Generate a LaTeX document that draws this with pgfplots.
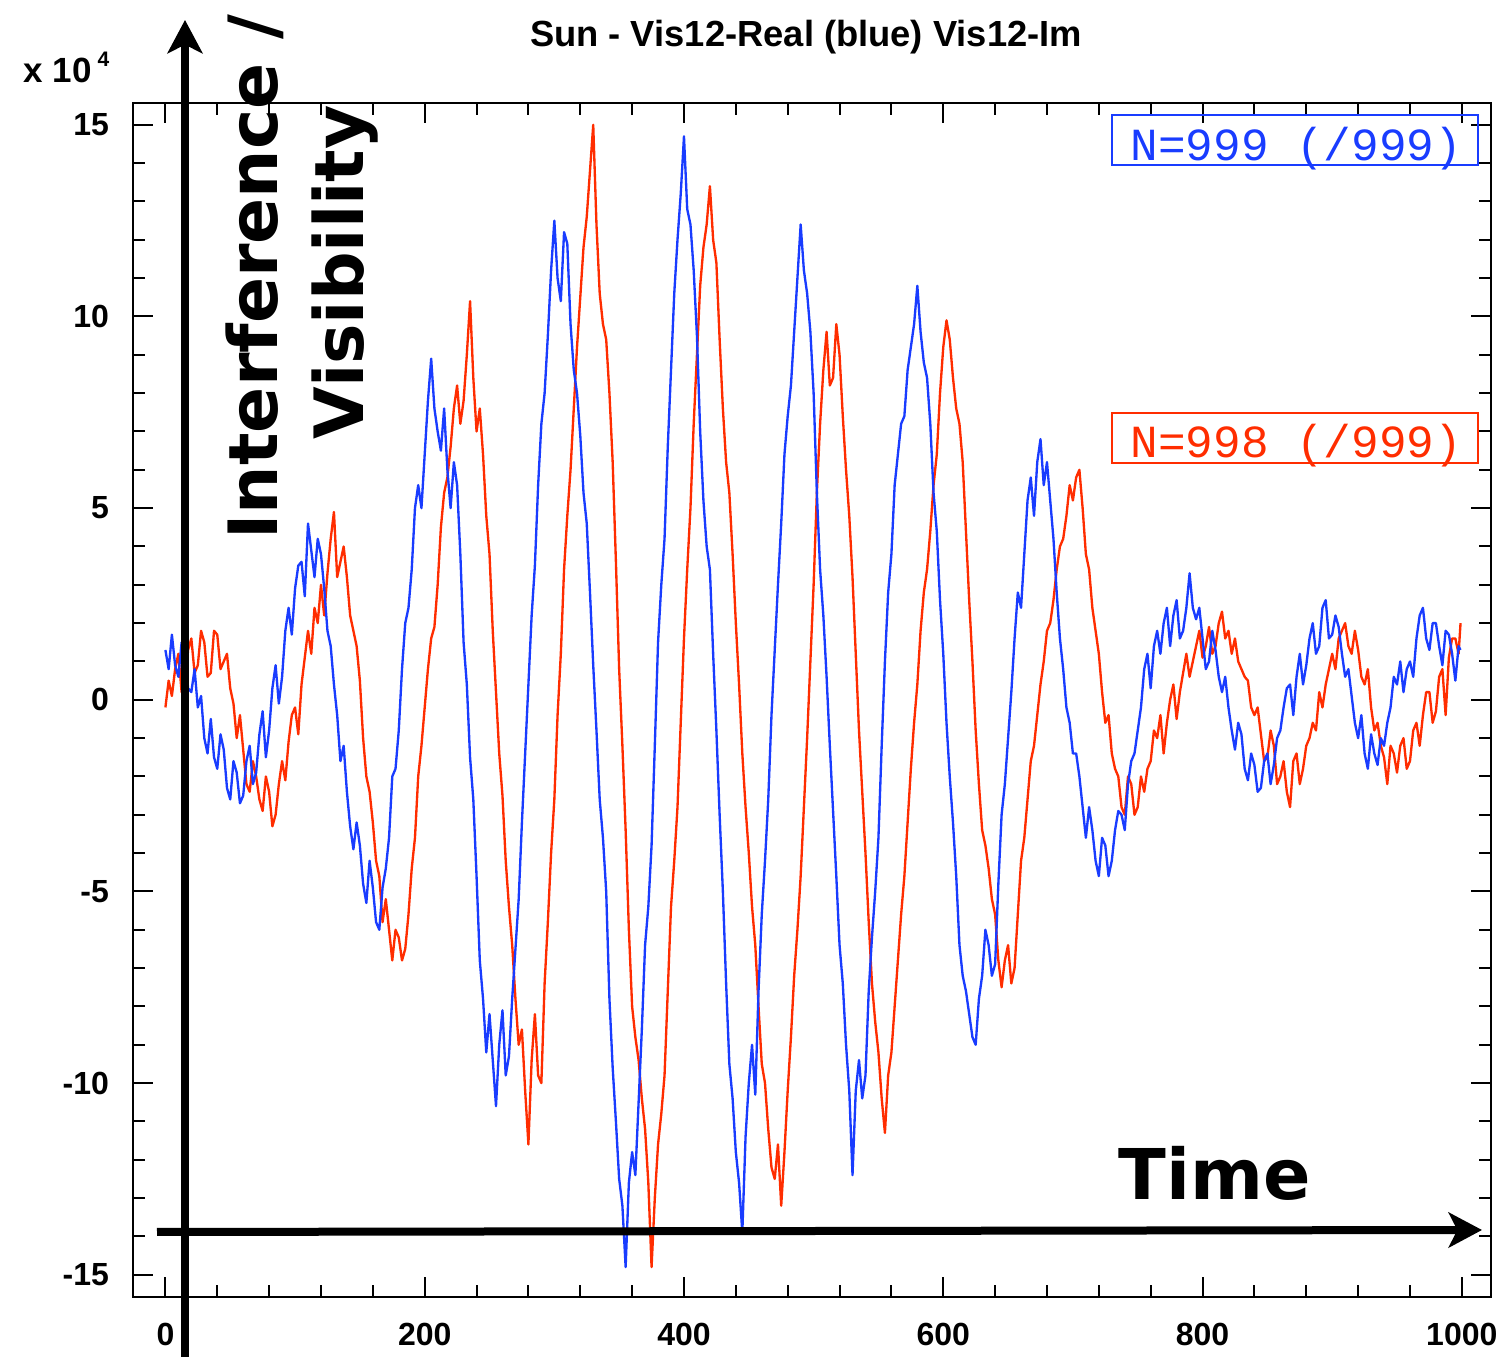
\documentclass[border=0pt]{standalone}
\usepackage{fontspec}
\setmainfont{Liberation Sans}
\newfontfamily\dejavu{DejaVu Sans}
\newfontfamily\monofont{Liberation Mono}
\usepackage{pgfplots}
\pgfplotsset{compat=1.18}
\usepackage{pgfplotstable}
\usetikzlibrary{arrows.meta}
\definecolor{rootblue}{RGB}{25,60,255}
\definecolor{rootred}{RGB}{255,45,0}

\pgfplotstableread{
t re im
0 1.3 -0.2
2.5 0.8 0.5
5 1.7 0.1
7.5 0.9 0.8
10 0.6 1.2
12.5 1.5 0.2
15 1.2 0.4
17.5 0.3 1.3
20 0.2 1.6
22.5 0.8 0.7
25 -0.2 0.9
27.5 0.1 1.8
30 -1.0 1.5
32.5 -1.4 0.6
35 -0.5 0.7
37.5 -1.5 1.8
40 -1.8 1.7
42.5 -0.9 0.8
45 -1.3 1.0
47.5 -2.3 1.2
50 -2.6 0.3
52.5 -1.6 -0.1
55 -1.9 -1.0
57.5 -2.7 -0.4
60 -2.5 -1.3
62.5 -1.6 -2.2
65 -1.2 -2.4
67.5 -2.2 -1.6
70 -1.9 -2.0
72.5 -0.9 -2.6
75 -0.3 -2.9
77.5 -1.5 -2.0
80 -0.8 -2.4
82.5 0.3 -3.3
85 0.9 -3.0
87.5 -0.1 -2.2
90 0.6 -1.6
92.5 1.8 -2.1
95 2.4 -1.1
97.5 1.7 -0.4
100 2.9 -0.2
102.5 3.5 -0.9
105 3.6 0.4
107.5 2.7 1.1
110 4.6 1.8
112.5 3.9 1.2
115 3.2 2.4
117.5 4.2 2.0
120 3.8 3.0
122.5 2.9 2.2
125 1.8 3.3
127.5 1.4 4.2
130 0.4 4.9
132.5 -0.4 3.2
135 -1.6 3.6
137.5 -1.2 4.0
140 -2.4 3.2
142.5 -3.3 2.2
145 -3.9 1.8
147.5 -3.2 1.4
150 -3.8 0.5
152.5 -4.8 -1.0
155 -5.3 -2.0
157.5 -4.2 -2.4
160 -4.9 -3.2
162.5 -5.8 -4.2
165 -6.0 -4.6
167.5 -4.9 -5.8
170 -4.4 -5.2
172.5 -3.6 -6.0
175 -2.0 -6.8
177.5 -1.8 -6.0
180 -0.8 -6.2
182.5 0.8 -6.8
185 2.0 -6.5
187.5 2.4 -5.6
190 3.4 -4.4
192.5 5.0 -3.6
195 5.6 -2.0
197.5 5.0 -1.2
200 6.4 -0.2
202.5 7.8 0.8
205 8.9 1.6
207.5 7.6 1.9
210 7.0 3.0
212.5 6.5 4.5
215 7.6 5.4
217.5 6.0 5.8
220 5.0 6.6
222.5 6.2 7.6
225 5.6 8.2
227.5 3.8 7.2
230 1.5 7.8
232.5 0.4 9.0
235 -1.5 10.4
237.5 -2.6 8.4
240 -4.6 7.0
242.5 -6.8 7.6
245 -7.8 6.4
247.5 -9.2 4.8
250 -8.2 3.8
252.5 -9.4 1.8
255 -10.6 0.2
257.5 -9.0 -1.4
260 -8.1 -2.5
262.5 -9.8 -4.2
265 -9.3 -5.4
267.5 -7.8 -6.4
270 -6.5 -7.8
272.5 -5.2 -9.0
275 -3.2 -8.6
277.5 -1.4 -10.2
280 0.4 -11.6
282.5 2.2 -9.4
285 3.5 -8.2
287.5 5.6 -9.8
290 7.2 -10.0
292.5 8.0 -7.4
295 9.5 -5.8
297.5 11.2 -4.0
300 12.5 -2.6
302.5 11.0 -0.4
305 10.4 1.2
307.5 12.2 3.4
310 11.9 4.8
312.5 9.8 6.0
315 8.6 7.6
317.5 8.0 9.2
320 6.9 10.5
322.5 5.4 11.8
325 4.6 12.6
327.5 2.8 13.8
330 0.9 15.0
332.5 -0.8 12.4
335 -2.6 10.6
337.5 -3.6 9.8
340 -5.0 9.4
342.5 -7.8 8.0
345 -9.6 6.2
347.5 -11.0 3.6
350 -12.5 0.8
352.5 -13.2 -1.2
355 -14.8 -3.4
357.5 -12.6 -6.0
360 -11.8 -8.0
362.5 -12.4 -8.8
365 -10.5 -9.4
367.5 -8.6 -10.4
370 -6.4 -11.2
372.5 -5.4 -12.6
375 -3.8 -14.8
377.5 -1.2 -13.0
380 1.5 -11.6
382.5 3.0 -10.8
385 4.2 -9.8
387.5 6.6 -7.6
390 8.6 -5.4
392.5 10.6 -4.2
395 12.0 -2.8
397.5 13.2 -0.6
400 14.7 1.6
402.5 12.8 3.4
405 12.4 5.0
407.5 11.2 7.2
410 9.5 9.0
412.5 7.0 10.8
415 5.2 11.8
417.5 4.0 12.4
420 3.4 13.4
422.5 1.2 12.0
425 -0.8 11.4
427.5 -3.0 9.4
430 -5.0 7.6
432.5 -7.4 6.2
435 -9.5 5.4
437.5 -10.4 3.8
440 -11.8 2.0
442.5 -12.6 0.4
445 -13.9 -1.4
447.5 -11.4 -2.8
450 -10.0 -4.0
452.5 -9.0 -5.4
455 -10.3 -6.4
457.5 -7.6 -8.0
460 -5.6 -9.5
462.5 -4.2 -10.0
465 -2.6 -11.2
467.5 -0.4 -12.2
470 1.3 -12.5
472.5 3.0 -11.6
475 4.6 -13.2
477.5 6.4 -11.8
480 7.4 -10.2
482.5 8.2 -8.8
485 9.6 -7.2
487.5 11.0 -6.0
490 12.4 -4.6
492.5 11.2 -2.8
495 10.6 -1.0
497.5 9.6 1.0
500 8.0 3.0
502.5 5.4 5.4
505 3.4 7.2
507.5 2.2 8.6
510 0.6 9.6
512.5 -1.2 8.2
515 -2.9 8.4
517.5 -4.6 9.8
520 -6.4 9.0
522.5 -7.4 7.4
525 -9.0 6.0
527.5 -10.2 4.8
530 -12.4 3.2
532.5 -10.2 1.2
535 -9.4 -0.8
537.5 -10.4 -2.4
540 -9.8 -4.0
542.5 -7.6 -5.8
545 -6.2 -7.4
547.5 -5.0 -8.4
550 -3.6 -9.2
552.5 -1.2 -10.4
555 1.0 -11.3
557.5 2.8 -9.8
560 3.8 -9.2
562.5 5.6 -8.0
565 6.4 -6.8
567.5 7.2 -5.6
570 7.4 -4.6
572.5 8.6 -3.2
575 9.2 -1.8
577.5 9.8 -0.6
580 10.8 0.4
582.5 9.6 1.8
585 8.8 2.8
587.5 8.4 3.4
590 7.2 4.4
592.5 5.4 5.6
595 4.4 6.4
597.5 2.6 8.0
600 1.2 9.2
602.5 -0.6 9.9
605 -2.0 9.4
607.5 -3.2 8.4
610 -4.6 7.6
612.5 -6.4 7.2
615 -7.2 6.2
617.5 -7.6 4.4
620 -8.2 2.6
622.5 -8.8 1.0
625 -9.0 -0.8
627.5 -7.8 -2.2
630 -7.2 -3.4
632.5 -6.0 -3.8
635 -6.4 -4.4
637.5 -7.2 -5.2
640 -6.9 -5.6
642.5 -4.8 -6.8
645 -3.0 -7.5
647.5 -2.2 -6.8
650 -1.0 -6.4
652.5 0.2 -7.4
655 1.6 -7.0
657.5 2.8 -5.6
660 2.4 -4.2
662.5 3.8 -3.6
665 5.2 -2.6
667.5 5.8 -1.6
670 4.8 -1.2
672.5 6.2 -0.4
675 6.8 0.4
677.5 5.6 1.0
680 6.2 1.8
682.5 5.2 2.0
685 4.2 2.6
687.5 2.8 3.4
690 1.6 4.0
692.5 0.8 4.2
695 -0.2 4.8
697.5 -0.6 5.6
700 -1.4 5.2
702.5 -1.4 5.8
705 -2.0 6.0
707.5 -2.8 5.0
710 -3.6 3.8
712.5 -2.8 3.4
715 -3.4 2.4
717.5 -4.2 1.8
720 -4.6 1.2
722.5 -3.6 0.2
725 -3.8 -0.6
727.5 -4.6 -0.4
730 -4.2 -1.4
732.5 -3.4 -1.8
735 -2.9 -2.0
737.5 -3.0 -2.8
740 -3.4 -3.0
742.5 -2.2 -2.0
745 -1.6 -2.2
747.5 -1.4 -3.0
750 -0.8 -2.8
752.5 -0.2 -2.0
755 0.8 -2.4
757.5 1.2 -1.8
760 0.3 -1.6
762.5 1.4 -0.8
765 1.8 -1.0
767.5 1.2 -0.4
770 2.0 -1.4
772.5 2.4 -0.6
775 1.4 0.0
777.5 2.2 0.4
780 2.6 -0.5
782.5 1.6 0.2
785 1.8 0.7
787.5 2.4 1.2
790 3.3 0.6
792.5 2.4 1.0
795 2.1 1.4
797.5 2.4 1.8
800 1.6 1.1
802.5 0.8 1.4
805 1.0 1.9
807.5 1.8 1.2
810 1.3 1.4
812.5 0.6 2.0
815 0.2 2.3
817.5 0.6 1.6
820 -0.2 1.8
822.5 -0.8 1.2
825 -1.3 1.6
827.5 -0.6 1.0
830 -0.9 0.8
832.5 -1.8 0.6
835 -2.1 0.5
837.5 -1.4 -0.2
840 -1.7 -0.4
842.5 -2.4 -0.2
845 -2.3 -0.9
847.5 -1.6 -1.6
850 -1.4 -1.5
852.5 -2.2 -0.8
855 -1.7 -1.2
857.5 -1.0 -2.2
860 -0.8 -2.0
862.5 -0.2 -1.6
865 0.3 -2.4
867.5 0.4 -2.8
870 -0.4 -1.6
872.5 0.6 -1.4
875 1.2 -2.2
877.5 0.4 -1.8
880 0.9 -1.2
882.5 1.6 -1.0
885 2.0 -0.6
887.5 1.2 -0.8
890 1.4 0.2
892.5 2.4 -0.2
895 2.6 0.4
897.5 1.6 0.8
900 1.7 1.2
902.5 2.2 0.8
905 1.9 1.6
907.5 1.2 1.8
910 0.6 2.0
912.5 0.8 1.4
915 0.1 1.2
917.5 -0.6 1.8
920 -1.0 1.3
922.5 -0.4 0.6
925 -1.4 0.4
927.5 -1.8 0.8
930 -0.9 -0.2
932.5 -1.4 -0.8
935 -1.7 -0.6
937.5 -1.0 -1.2
940 -1.2 -1.5
942.5 -0.6 -2.2
945 -0.2 -1.2
947.5 0.6 -1.4
950 0.4 -1.9
952.5 1.0 -1.2
955 0.2 -1.0
957.5 0.8 -1.8
960 1.0 -1.6
962.5 0.6 -0.8
965 1.6 -0.6
967.5 2.2 -1.2
970 2.4 -0.4
972.5 1.6 0.2
975 1.3 0.2
977.5 2.0 -0.6
980 2.0 -0.3
982.5 1.4 0.6
985 0.9 0.8
987.5 1.8 -0.4
990 1.7 1.1
992.5 1.2 1.6
995 0.5 1.6
997.5 1.4 1.2
999 1.3 2.0
}\vis

\begin{document}
\begin{tikzpicture}
\begin{axis}[
  at={(0,0)}, anchor=south west,
  scale only axis, width=407.4pt, height=358.2pt,
  xmin=-25, xmax=1022.5, ymin=-15.58, ymax=15.57,
  axis line style={line width=0.6pt},
  tick align=inside,
  major tick length=6pt, minor tick length=3.6pt,
  every tick/.append style={black, line width=0.6pt},
  xtick={0,200,400,600,800,1000}, minor x tick num=4,
  ytick={-15,-10,-5,0,5,10,15}, minor y tick num=4,
  xticklabels={0,200,400,600,800,1000},
  yticklabels={-15,-10,-5,0,5,10,15},
  ticklabel style={font=\fontsize{9.6}{11}\selectfont\bfseries},
  xticklabel style={yshift=-4.3pt},
  yticklabel style={xshift=-3.7pt},
  clip=true,
]
\addplot[rootred, line width=0.7pt, line join=round] table[x=t, y=im] {\vis};
\addplot[rootblue, line width=0.7pt, line join=round] table[x=t, y=re] {\vis};
\end{axis}
\begin{scope}[shift={(-39.9pt,389.1pt)}, x=0.3pt, y=-0.3pt]
  % title
  \node[anchor=base, inner sep=0pt, font=\fontsize{10.9}{12}\selectfont\bfseries] at (806,47) {Sun - Vis12-Real (blue) Vis12-Im};
  % exponent
  \node[anchor=base west, inner sep=0pt, font=\fontsize{10.5}{12}\selectfont\bfseries] at (23,83) {x 10};
  \node[anchor=base west, inner sep=0pt, font=\fontsize{6.3}{7}\selectfont\bfseries] at (97,67) {4};
  % legend boxes
  \draw[rootblue, line width=0.6pt] (1112,115) rectangle (1478,165);
  \node[anchor=base west, inner sep=0pt, text=rootblue, font=\monofont\fontsize{13.8}{15}\selectfont] at (1130,161) {N=999 (/999)};
  \draw[rootred, line width=0.6pt] (1112,413) rectangle (1478,463);
  \node[anchor=base west, inner sep=0pt, text=rootred, font=\monofont\fontsize{13.8}{15}\selectfont] at (1130,458) {N=998 (/999)};
  % arrows
  \draw[line width=2.4pt, -{Stealth[length=10pt, width=10.5pt, inset=2.6pt]}] (185,1357) -- (185,20);
  \draw[line width=2.4pt, -{Stealth[length=10pt, width=10.5pt, inset=2.6pt]}] (157,1232) -- (1482,1230);
  % big labels
  \node[anchor=base west, inner sep=0pt, rotate=90, font=\dejavu\bfseries\fontsize{20.4}{24}\selectfont] at (277,540) {Interference /};
  \node[anchor=base west, inner sep=0pt, rotate=90, font=\dejavu\bfseries\fontsize{20.4}{24}\selectfont] at (363,440) {Visibility};
  \node[anchor=base west, inner sep=0pt, font=\dejavu\bfseries\fontsize{21}{24}\selectfont] at (1118,1200) {Time};
  \pgfresetboundingbox
  \path (0,0) rectangle (1510,1357);
\end{scope}
\end{tikzpicture}
\end{document}
